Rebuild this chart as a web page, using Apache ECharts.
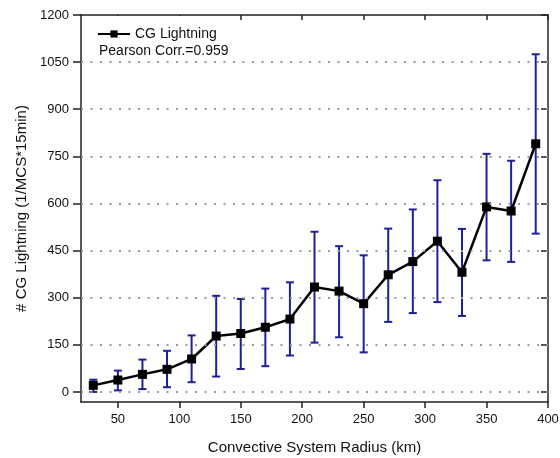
<!DOCTYPE html>
<html>
<head>
<meta charset="utf-8">
<script src="https://cdn.jsdelivr.net/npm/echarts@6/dist/echarts.min.js"></script>
<style>
  html, body { margin: 0; padding: 0; background: #fff; }
  #chart { width: 560px; height: 458px; }
</style>
</head>
<body>
<div id="chart"></div>
<script>
// Convective system radius bins (km)
const radius = [30, 50, 70, 90, 110, 130, 150, 170, 190, 210, 230, 250, 270, 290, 310, 330, 350, 370, 390];
// Mean CG lightning count per MCS per 15 min
const cgMean = [21, 38, 56, 72, 105, 178, 186, 206, 232, 334, 321, 281, 373, 415, 480, 381, 589, 576, 790];
// Error bar extents
const cgLow  = [0, 5, 9, 15, 31, 49, 73, 82, 116, 157, 174, 126, 223, 251, 286, 242, 419, 414, 504];
const cgHigh = [39, 68, 103, 131, 180, 306, 296, 329, 349, 510, 464, 435, 520, 581, 674, 519, 758, 736, 1075];

const xTicks = [50, 100, 150, 200, 250, 300, 350, 400];
const yTicks = [0, 150, 300, 450, 600, 750, 900, 1050, 1200];
const yGrid  = [0, 150, 300, 450, 600, 750, 900, 1050];

const corrText = 'Pearson Corr.=0.959';

const FONT = 'Liberation Sans, Arial, sans-serif';
const AXIS_COLOR = '#222';
const BAR_COLOR = '#1f1f99';

const chart = echarts.init(document.getElementById('chart'), null, { renderer: 'canvas' });

const errData = radius.map((r, i) => [r, cgLow[i], cgHigh[i]]);

const axisLineStyle = { color: AXIS_COLOR, width: 1.5 };
const plain = v => String(v);

chart.setOption({
  backgroundColor: '#fff',
  animation: false,
  grid: { left: 81, right: 12, top: 15, bottom: 56, containLabel: false, outerBoundsMode: 'none' },
  xAxis: [
    {
      type: 'value', min: 20, max: 400, position: 'bottom',
      name: 'Convective System Radius (km)', nameLocation: 'middle', nameGap: 38,
      nameTextStyle: { fontFamily: FONT, fontSize: 15, color: '#111' },
      axisLine: { show: true, onZero: false, lineStyle: axisLineStyle },
      axisTick: { show: true, inside: false, length: 6, customValues: xTicks, lineStyle: axisLineStyle },
      axisLabel: { show: true, margin: 11, customValues: xTicks, formatter: plain, fontFamily: FONT, fontSize: 13, color: '#111' },
      splitLine: { show: false }
    },
    {
      type: 'value', min: 20, max: 400, position: 'top',
      axisLine: { show: true, onZero: false, lineStyle: axisLineStyle },
      axisTick: { show: true, inside: true, length: 5, customValues: xTicks, lineStyle: axisLineStyle },
      axisLabel: { show: false },
      splitLine: { show: false }
    }
  ],
  yAxis: [
    {
      type: 'value', min: -32, max: 1200, position: 'left',
      name: '# CG Lightning (1/MCS*15min)', nameLocation: 'middle', nameGap: 47,
      nameTextStyle: { fontFamily: FONT, fontSize: 15, color: '#111' },
      axisLine: { show: true, onZero: false, lineStyle: axisLineStyle },
      axisTick: { show: true, inside: false, length: 8, customValues: yTicks, lineStyle: axisLineStyle },
      axisLabel: { show: true, margin: 12, customValues: yTicks, formatter: plain, fontFamily: FONT, fontSize: 13, color: '#111' },
      splitLine: { show: false }
    },
    {
      type: 'value', min: -32, max: 1200, position: 'right',
      axisLine: { show: true, onZero: false, lineStyle: axisLineStyle },
      axisTick: { show: true, inside: true, length: 7, customValues: yTicks, lineStyle: axisLineStyle },
      axisLabel: { show: false },
      splitLine: { show: false }
    }
  ],
  legend: {
    data: ['CG Lightning'],
    left: 92, top: 22,
    itemWidth: 32, itemHeight: 9, itemGap: 4,
    textStyle: { fontFamily: FONT, fontSize: 14, color: '#111' },
    z: 10
  },
  series: [
    {
      // dotted horizontal grid
      name: 'grid', type: 'line', data: [], silent: true, z: 1,
      markLine: {
        silent: true, symbol: ['none', 'none'], animation: false,
        label: { show: false },
        lineStyle: { color: '#9a9a9a', width: 2, type: [2, 7.5] },
        emphasis: { disabled: true },
        data: yGrid.map(v => ({ yAxis: v }))
      }
    },
    {
      name: 'errors', type: 'custom', z: 2,
      data: errData,
      renderItem: function (params, api) {
        const x = api.value(0);
        const lo = api.coord([x, api.value(1)]);
        const hi = api.coord([x, api.value(2)]);
        const cap = 4;
        const style = { stroke: BAR_COLOR, lineWidth: 2 };
        return {
          type: 'group',
          children: [
            { type: 'line', shape: { x1: lo[0], y1: lo[1], x2: hi[0], y2: hi[1] }, style },
            { type: 'line', shape: { x1: hi[0] - cap, y1: hi[1], x2: hi[0] + cap, y2: hi[1] }, style },
            { type: 'line', shape: { x1: lo[0] - cap, y1: lo[1], x2: lo[0] + cap, y2: lo[1] }, style }
          ]
        };
      }
    },
    {
      name: 'CG Lightning', type: 'line', z: 3,
      data: radius.map((r, i) => [r, cgMean[i]]),
      symbol: 'rect', symbolSize: 9,
      lineStyle: { color: '#000', width: 2.5 },
      itemStyle: { color: '#000' }
    },
    {
      // legend panel: white backing plus correlation note
      name: 'legendPanel', type: 'custom', coordinateSystem: 'none', z: 4, silent: true,
      data: [0],
      renderItem: function () {
        return {
          type: 'group',
          children: [
            { type: 'rect', shape: { x: 82, y: 16, width: 158, height: 50 }, style: { fill: '#fff' } },
            { type: 'text', x: 99, y: 44, style: { text: corrText, font: '14px ' + FONT, fill: '#111' } }
          ]
        };
      }
    }
  ]
});
</script>
</body>
</html>
